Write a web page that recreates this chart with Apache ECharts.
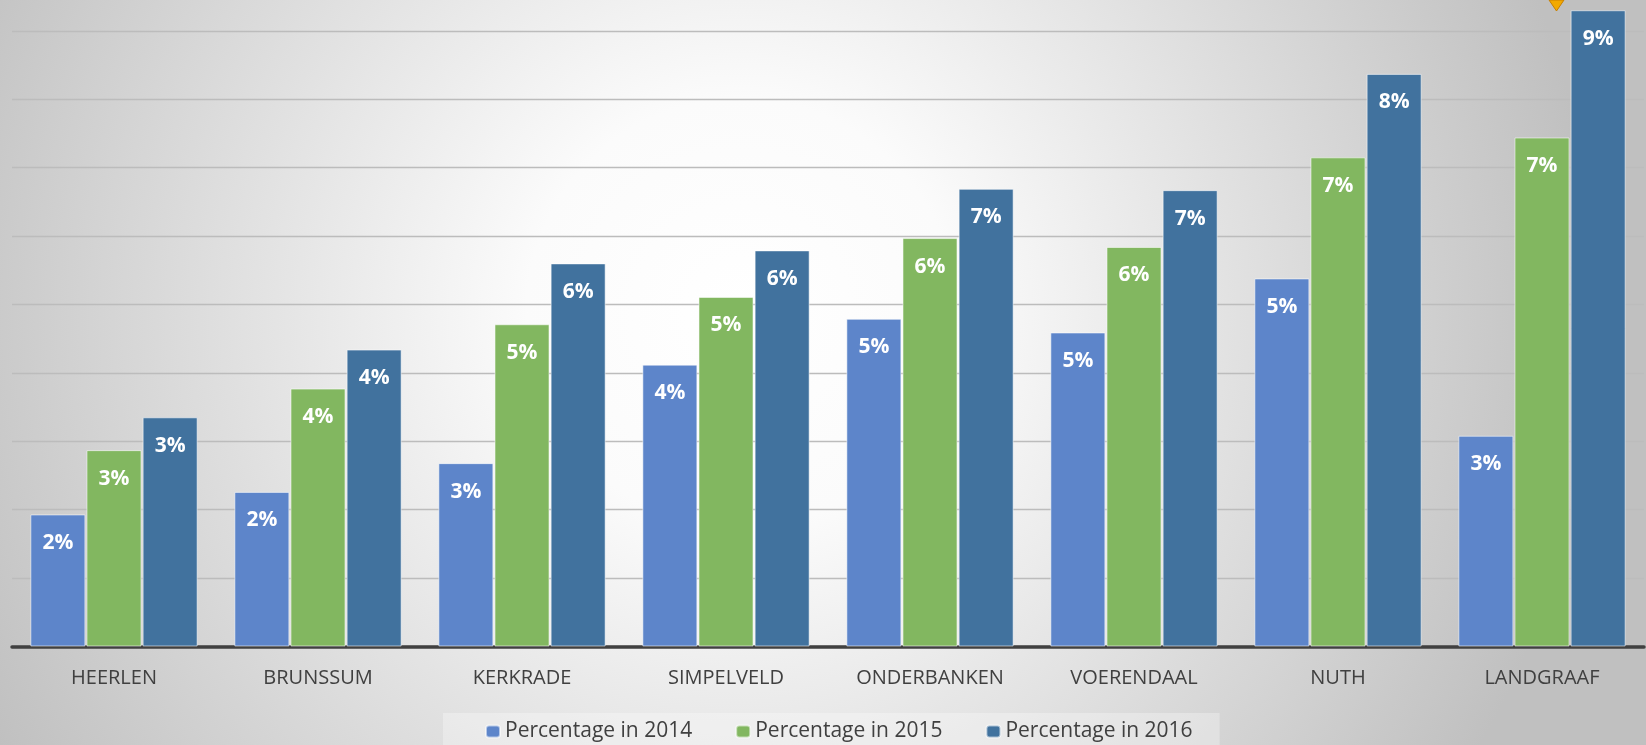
<!DOCTYPE html>
<html>
<head>
<meta charset="utf-8">
<script src="https://cdn.jsdelivr.net/npm/echarts@6/dist/echarts.min.js"></script>
<style>
html,body{margin:0;padding:0;overflow:hidden;}
#chart{width:1646px;height:745px;}
</style>
</head>
<body>
<div id="chart"></div>
<script>
const categories = ['HEERLEN','BRUNSSUM','KERKRADE','SIMPELVELD','ONDERBANKEN','VOERENDAAL','NUTH','LANDGRAAF'];
const seriesNames = ['Percentage in 2014','Percentage in 2015','Percentage in 2016'];
const values2014 = [1.93, 2.26, 2.68, 4.12, 4.79, 4.59, 5.38, 3.08];
const values2015 = [2.87, 3.77, 4.71, 5.11, 5.97, 5.84, 7.15, 7.44];
const values2016 = [3.35, 4.34, 5.60, 5.79, 6.69, 6.67, 8.37, 9.30];
const colors = ['#5d85ca', '#82b760', '#41729e'];

const chart = echarts.init(document.getElementById('chart'), null, {renderer:'canvas'});

function mkSeries(name, data, color){
  return {
    name: name,
    type: 'bar',
    data: data,
    barGap: '2%',
    barCategoryGap: '18%',
    itemStyle: {color: color, borderColor: 'rgba(255,255,255,0.55)', borderWidth: 1},
    label: {
      show: true,
      position: 'insideTop',
      distance: 18,
      color: '#ffffff',
      fontFamily: 'Open Sans',
      fontWeight: 'bold',
      fontSize: 21,
      formatter: p => Math.round(p.value) + '%'
    }
  };
}

chart.setOption({
  animation: false,
  backgroundColor: {
    type: 'radial', x: 0.45, y: 0.42, r: 1.15,
    colorStops: [
      {offset: 0, color: '#ffffff'},
      {offset: 0.25, color: '#fbfbfb'},
      {offset: 1, color: '#c0c0c0'}
    ]
  },
  color: colors,
  grid: {left: 12, right: 2, top: 0, bottom: 98.5, containLabel: false},
  legend: {
    left: 443, top: 713,
    itemWidth: 14, itemHeight: 12, itemGap: 43,
    padding: [8, 27, 20, 42],
    backgroundColor: 'rgba(255,255,255,0.3)',
    textStyle: {fontFamily: 'Open Sans', fontSize: 21, color: '#404040'},
    data: seriesNames
  },
  xAxis: {
    type: 'category',
    data: categories,
    axisLine: {lineStyle: {color: '#404040', width: 3.5}},
    axisTick: {show: false},
    axisLabel: {fontFamily: 'Open Sans', fontSize: 20, color: '#404040', margin: 22}
  },
  yAxis: {
    type: 'value',
    min: 0, max: 9.45, interval: 1,
    axisLabel: {show: false},
    axisLine: {show: false},
    axisTick: {show: false},
    splitLine: {showMaxLine: false, lineStyle: {color: '#bcbcbc', width: 1.3}}
  },
  series: [
    mkSeries(seriesNames[0], values2014, colors[0]),
    mkSeries(seriesNames[1], values2015, colors[1]),
    mkSeries(seriesNames[2], values2016, colors[2])
  ],
  graphic: [{
    type: 'polygon',
    shape: {points: [[1549, 0], [1564, 0], [1556.5, 11]]},
    style: {fill: '#f2a900', stroke: '#c77f00', lineWidth: 1}
  }]
});
</script>
</body>
</html>
